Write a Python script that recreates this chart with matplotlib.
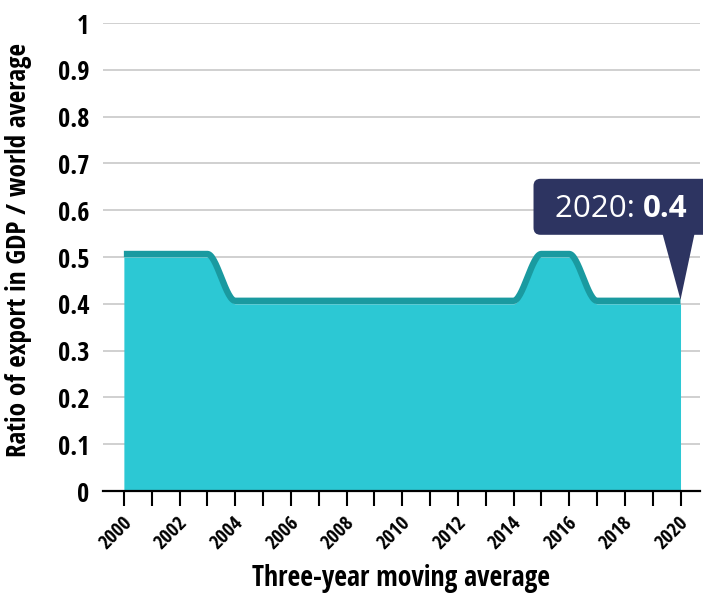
import numpy as np
import matplotlib.pyplot as plt
import matplotlib.transforms as mtransforms
from matplotlib.patches import FancyBboxPatch, Polygon

# Export share of GDP relative to the world average (3-year moving average)
years = list(range(2000, 2021))
ratio = [0.5, 0.5, 0.5, 0.5,
         0.4, 0.4, 0.4, 0.4, 0.4, 0.4, 0.4, 0.4, 0.4, 0.4, 0.4,
         0.5, 0.5,
         0.4, 0.4, 0.4, 0.4]
yticks = [0, 0.1, 0.2, 0.3, 0.4, 0.5, 0.6, 0.7, 0.8, 0.9, 1]
ytick_labels = ["0", "0.1", "0.2", "0.3", "0.4", "0.5", "0.6", "0.7", "0.8", "0.9", "1"]

fill_color = "#2cc8d4"
line_color = "#1a9aa0"
tip_color = "#2d3461"
narrow = ["Open Sans Condensed", "Roboto Condensed", "PT Sans Narrow",
          "Liberation Sans Narrow", "DejaVu Sans"]


def monotone_curve(x, y, n=30):
    # monotone cubic (d3 curveMonotoneX style) between the yearly points
    x = np.asarray(x, float)
    y = np.asarray(y, float)
    h = np.diff(x)
    s = np.diff(y) / h
    m = np.zeros_like(y)
    for i in range(1, len(x) - 1):
        s0, s1 = s[i - 1], s[i]
        p = (s0 * h[i] + s1 * h[i - 1]) / (h[i - 1] + h[i])
        m[i] = (np.sign(s0) + np.sign(s1)) * min(abs(s0), abs(s1), 0.5 * abs(p))
    m[0], m[-1] = s[0], s[-1]
    xs, ys = [], []
    for i in range(len(x) - 1):
        t = np.linspace(0, 1, n, endpoint=(i == len(x) - 2))
        h00 = 2 * t**3 - 3 * t**2 + 1
        h10 = t**3 - 2 * t**2 + t
        h01 = -2 * t**3 + 3 * t**2
        h11 = t**3 - t**2
        xs.append(x[i] + t * h[i])
        ys.append(h00 * y[i] + h10 * h[i] * m[i] + h01 * y[i + 1] + h11 * h[i] * m[i + 1])
    return np.concatenate(xs), np.concatenate(ys)


fig = plt.figure(figsize=(7.03, 5.98), dpi=100)
ax = fig.add_axes([103 / 703, 107 / 598, 597 / 703, 468 / 598])

cx, cy = monotone_curve(years, ratio)
ax.fill_between(cx, 0, cy, color=fill_color, linewidth=0, zorder=2)
line_tr = mtransforms.offset_copy(ax.transData, fig=fig, x=0, y=3, units="dots")
ax.plot(cx, cy, color=line_color, linewidth=4.6, solid_capstyle="butt",
        solid_joinstyle="round", transform=line_tr, zorder=3)

ax.set_xlim(1999.25, 2020.7)
ax.set_ylim(0, 1)

# axes styling
for side in ["left", "top", "right"]:
    ax.spines[side].set_visible(False)
ax.spines["bottom"].set_color("black")
ax.spines["bottom"].set_linewidth(1.6)
ax.spines["bottom"].set_zorder(4)

ax.set_yticks(yticks)
ax.set_yticklabels(ytick_labels, family=narrow, fontweight="bold", fontsize=19)
ax.tick_params(axis="y", length=0, pad=10)
ax.yaxis.grid(True, color="#c8c8c8", linewidth=1.2, zorder=1)
ax.set_axisbelow(True)

ax.set_xticks(years)
ax.set_xticklabels([str(y) if y % 2 == 0 else "" for y in years],
                   family=narrow, fontweight="bold", fontsize=14.5, rotation=45,
                   ha="right", va="center", rotation_mode="anchor")
ax.tick_params(axis="x", length=10.8, width=1.5, color="black", pad=10)
shift = mtransforms.ScaledTranslation(5 / fig.dpi, 0, fig.dpi_scale_trans)
for lbl in ax.get_xticklabels():
    lbl.set_transform(lbl.get_transform() + shift)

ax.set_ylabel("Ratio of export in GDP / world average", family=narrow,
              fontweight="bold", fontsize=19.5)
ax.yaxis.set_label_coords(-0.119, 0.515)
ax.set_xlabel("Three-year moving average", family=narrow,
              fontweight="bold", fontsize=20)
ax.xaxis.set_label_coords(0.5, -0.155)

# tooltip for the last point, laid out in pixels around (2020, 0.4)
px = mtransforms.Affine2D().scale(1 / fig.dpi) + fig.dpi_scale_trans + \
    mtransforms.ScaledTranslation(years[-1], ratio[-1], ax.transData)
box = FancyBboxPatch((-147, 69), 177, 56, boxstyle="round,pad=0,rounding_size=7",
                     facecolor=tip_color, edgecolor="none", transform=px,
                     clip_on=False, zorder=6)
ax.add_patch(box)
ax.add_patch(Polygon([(-18, 70), (14, 70), (0, 4)], closed=True, facecolor=tip_color,
                     edgecolor="none", transform=px, clip_on=False, zorder=6))
t1 = ax.text(-126, 87, f"{years[-1]}: ", transform=px, color="white", fontsize=22.5,
             family="Open Sans", va="baseline", ha="left", zorder=7)
ax.annotate(f"{ratio[-1]:g}", xy=(1, 0), xycoords=t1, color="white", fontsize=22.5,
            family="Open Sans", fontweight="bold", va="bottom", ha="left", zorder=7)

fig.savefig("out.png", dpi=100)
